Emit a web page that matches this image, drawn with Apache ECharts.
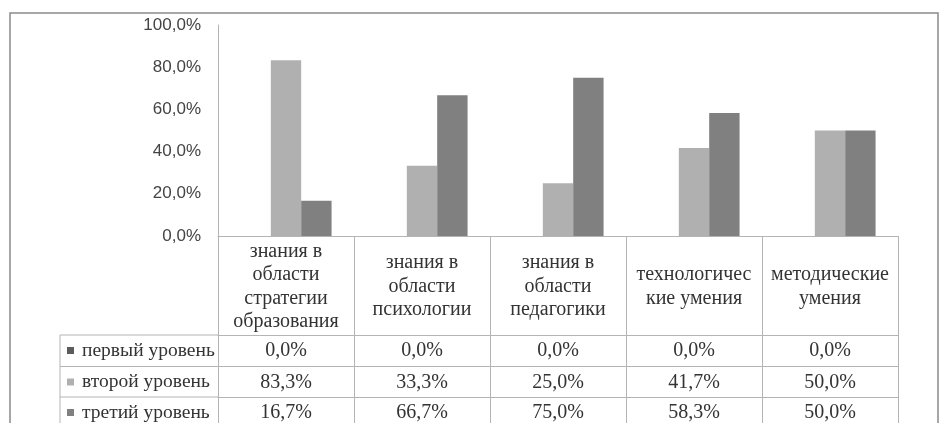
<!DOCTYPE html>
<html>
<head>
<meta charset="utf-8">
<script src="https://cdn.jsdelivr.net/npm/echarts@6/dist/echarts.min.js"></script>
<style>html,body{margin:0;padding:0;background:#fff;}#c{width:941px;height:423px;}</style>
</head>
<body>
<div id="c"></div>
<script>
const categories = ['знания в\nобласти\nстратегии\nобразования', 'знания в\nобласти\nпсихологии', 'знания в\nобласти\nпедагогики', 'технологичес\nкие умения', 'методические\nумения'];
const seriesNames = ['первый уровень', 'второй уровень', 'третий уровень'];
const level1 = [0.0, 0.0, 0.0, 0.0, 0.0];
const level2 = [83.3, 33.3, 25.0, 41.7, 50.0];
const level3 = [16.7, 66.7, 75.0, 58.3, 50.0];
const yTicks = [0, 20, 40, 60, 80, 100];
const colors = ['#5c5c5c', '#b0b0b0', '#808080'];

const levels = [level1, level2, level3];
const fmt = v => v.toFixed(1).replace('.', ',') + '%';
const lineColor = '#b4b4b4';
const serif = 'Liberation Serif';
const rowOffsets = [99, 130.5, 161];

const chart = echarts.init(document.getElementById('c'), null, {renderer: 'canvas'});

const xAxes = [{
  type: 'category', data: categories, gridIndex: 0, position: 'bottom',
  axisLine: {show: true, lineStyle: {color: lineColor, width: 1}},
  axisTick: {show: true, alignWithLabel: false, length: 192, lineStyle: {color: lineColor, width: 1}},
  axisLabel: {interval: 0, margin: 50.5, verticalAlign: 'middle', fontFamily: serif, fontSize: 20, lineHeight: 23.5, color: '#333'}
}];
levels.forEach((arr, i) => {
  xAxes.push({
    type: 'category', data: categories, gridIndex: 0, position: 'bottom', offset: rowOffsets[i],
    axisLine: {show: true, lineStyle: {color: lineColor, width: 1}},
    axisTick: {show: false},
    axisLabel: {interval: 0, margin: 16, verticalAlign: 'middle', fontFamily: serif, fontSize: 20, color: '#333',
      formatter: (v, idx) => fmt(arr[idx])}
  });
});

const legends = seriesNames.map((n, i) => ({
  data: [n], orient: 'vertical', left: 67, top: 335 + rowOffsets[i] - 99 + 5.5, padding: 0,
  itemWidth: 7, itemHeight: 7, icon: 'rect', selectedMode: false,
  textStyle: {fontFamily: serif, fontSize: 19.5, color: '#333', lineHeight: 20, padding: [0, 0, 0, 3]}
}));

const option = {
  animation: false,
  backgroundColor: '#fff',
  color: colors,
  grid: {left: 218, right: 43, top: 25, bottom: 187, containLabel: false},
  legend: legends,
  xAxis: xAxes,
  yAxis: {
    type: 'value', min: yTicks[0], max: yTicks[yTicks.length - 1], interval: 20,
    axisLine: {show: true, lineStyle: {color: lineColor}},
    axisTick: {show: false},
    splitLine: {show: false},
    axisLabel: {margin: 17, fontFamily: 'Liberation Sans', fontSize: 17, color: '#444', formatter: v => fmt(v)}
  },
  series: levels.map((arr, i) => ({
    name: seriesNames[i], type: 'bar', data: arr, xAxisIndex: 0,
    barGap: '0%', barCategoryGap: '33%',
    itemStyle: {color: colors[i]}
  })),
  graphic: [
    {type: 'rect', shape: {x: 10, y: 13, width: 928, height: 430}, style: {fill: 'none', stroke: '#8a8a8a', lineWidth: 1.5}, silent: true},
    {type: 'line', shape: {x1: 60, y1: 335, x2: 218, y2: 335}, style: {stroke: lineColor, lineWidth: 1}},
    {type: 'line', shape: {x1: 60, y1: 366.5, x2: 218, y2: 366.5}, style: {stroke: lineColor, lineWidth: 1}},
    {type: 'line', shape: {x1: 60, y1: 397, x2: 218, y2: 397}, style: {stroke: lineColor, lineWidth: 1}},
    {type: 'line', shape: {x1: 60, y1: 335, x2: 60, y2: 430}, style: {stroke: lineColor, lineWidth: 1}}
  ]
};
chart.setOption(option);
</script>
</body>
</html>
